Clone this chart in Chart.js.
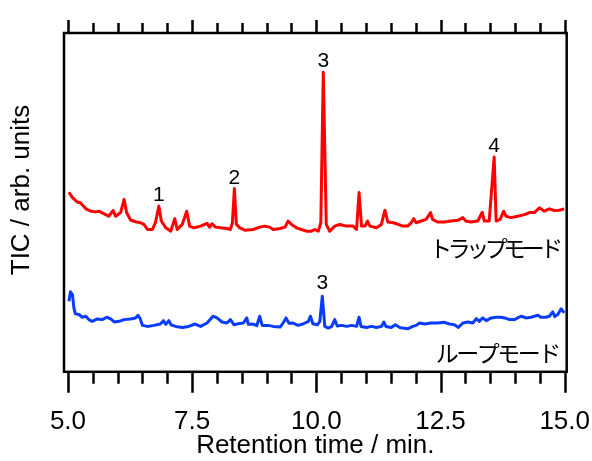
<!DOCTYPE html>
<html>
<head>
<meta charset="utf-8">
<script src="https://cdn.jsdelivr.net/npm/chart.js@4.4.1/dist/chart.umd.min.js"></script>
<style>
  html, body { margin: 0; padding: 0; background: #fff; }
  #wrap { width: 592px; height: 461px; }
</style>
</head>
<body>
<div id="wrap"><canvas id="tic"></canvas></div>
<script>
// retention time (min) and TIC signal
const trapTime = [5.02,5.09,5.19,5.25,5.36,5.46,5.56,5.62,5.72,5.82,5.91,5.96,6.06,6.13,6.18,6.26,6.36,6.46,6.53,6.60,
  6.70,6.76,6.83,6.88,6.97,7.07,7.15,7.20,7.30,7.39,7.45,7.54,7.67,7.80,7.85,7.90,7.97,8.07,8.20,8.27,
  8.31,8.35,8.39,8.46,8.56,8.73,8.86,8.96,9.06,9.13,9.27,9.37,9.43,9.50,9.60,9.70,9.80,9.90,9.97,10.04,
  10.09,10.14,10.20,10.27,10.37,10.47,10.61,10.74,10.81,10.86,10.91,10.98,11.03,11.08,11.21,11.31,11.38,11.44,11.55,11.65,
  11.74,11.84,11.91,11.96,12.01,12.11,12.21,12.30,12.34,12.44,12.58,12.71,12.85,12.95,13.01,13.11,13.25,13.34,13.38,13.48,
  13.58,13.62,13.70,13.77,13.82,13.92,14.05,14.19,14.29,14.39,14.49,14.59,14.69,14.79,14.89,14.99];
const trapSignal = [53.0,51.4,50.1,49.9,48.1,47.4,47.2,47.4,46.7,45.9,47.6,45.9,47.0,50.9,47.0,44.8,44.3,44.0,43.5,42.0,
  42.0,44.0,48.9,44.5,42.5,41.5,45.2,42.0,43.5,47.4,43.0,42.5,43.0,43.8,42.7,43.7,42.7,42.5,42.3,42.0,
  44.0,54.1,43.5,42.5,41.8,42.0,42.7,43.0,42.7,42.0,42.3,42.7,44.5,43.5,42.5,42.0,41.5,41.5,42.0,41.5,
  44.0,88.4,43.5,41.5,43.0,43.5,43.0,43.0,42.0,52.9,43.0,43.0,44.5,43.0,42.5,43.5,47.7,44.2,44.0,43.5,
  43.0,43.0,44.0,45.2,44.0,44.5,45.0,47.0,45.0,44.2,44.2,44.5,44.7,45.5,44.5,44.2,44.5,47.1,44.5,44.5,
  63.4,44.5,45.0,47.4,45.9,45.5,45.9,46.4,47.0,47.0,48.4,47.4,48.1,47.6,47.7,48.1];

const loopTime = [5.02,5.05,5.09,5.12,5.15,5.22,5.29,5.36,5.42,5.49,5.59,5.69,5.78,5.86,5.93,6.03,6.13,6.26,6.36,6.41,
  6.45,6.50,6.60,6.73,6.86,6.92,6.97,7.03,7.08,7.17,7.30,7.43,7.56,7.67,7.80,7.92,8.00,8.10,8.20,8.27,
  8.34,8.43,8.53,8.60,8.63,8.73,8.80,8.86,8.91,9.03,9.13,9.27,9.33,9.39,9.45,9.53,9.63,9.73,9.84,9.88,
  9.93,10.02,10.07,10.12,10.17,10.24,10.31,10.37,10.42,10.51,10.61,10.71,10.81,10.86,10.90,11.01,11.11,11.21,11.31,11.36,
  11.40,11.51,11.59,11.68,11.74,11.84,11.94,12.01,12.08,12.18,12.31,12.44,12.58,12.68,12.78,12.86,12.95,13.05,13.15,13.22,
  13.28,13.35,13.42,13.52,13.62,13.72,13.79,13.89,13.99,14.05,14.13,14.22,14.32,14.46,14.52,14.62,14.69,14.76,14.80,14.86,
  14.93,14.99];
const loopSignal = [20.8,23.6,22.8,18.8,17.1,16.9,16.1,16.4,15.4,14.9,15.6,15.4,16.1,15.6,14.7,14.9,15.4,15.6,15.9,16.7,
  15.8,13.7,13.4,13.7,14.1,15.1,14.0,15.1,13.8,13.4,13.1,13.4,14.1,13.4,14.4,16.4,15.9,14.7,14.4,15.4,
  13.9,14.2,14.4,15.9,14.0,14.1,13.6,16.4,13.7,13.7,13.4,13.2,14.4,15.9,14.3,14.4,13.7,14.1,14.9,16.4,
  14.2,13.9,14.8,22.3,13.4,12.9,13.4,15.4,13.5,13.7,13.4,13.7,13.4,16.1,13.4,13.1,13.4,13.1,13.4,14.7,
  13.4,13.1,13.9,13.1,12.9,12.7,13.4,13.7,14.4,14.1,14.4,14.4,14.6,14.1,13.9,13.1,14.4,14.7,14.4,15.7,
  14.9,15.9,15.1,15.9,16.1,16.1,15.9,15.4,15.4,15.9,16.4,15.9,16.1,16.7,16.1,16.1,16.4,17.7,16.3,16.9,
  18.6,17.4];

const trapPeakLabels = ["1", "2", "3", "4"];
const trapPeakTimes = [6.83, 8.35, 10.14, 13.58];
const loopPeakLabels = ["3"];
const loopPeakTimes = [10.12];

const xTickValues = [5, 7.5, 10, 12.5, 15];
const modeNames = ["トラップモード", "ループモード"];
const modeLabelLevel = [34, 3];
const yTitle = "TIC / arb. units";

function toPoints(times, values){
  let pts = [];
  times.forEach(function(t, i){
    pts.push({x: t, y: values[i]});
  });
  return pts;
}

const frameAndMarks = {
  id: "frameAndMarks",
  afterDatasetsDraw(chart){
    let ctx = chart.ctx;
    let a = chart.chartArea;
    let xs = chart.scales.x;
    let ys = chart.scales.y;
    ctx.save();
    ctx.strokeStyle = "#000";
    ctx.lineWidth = 2.5;
    ctx.strokeRect(a.left, a.top, a.right - a.left, a.bottom - a.top);

    // ticks every 0.5 min, longer at the labelled ones
    for (let i = 0; i <= 20; i++){
      let v = 5 + i * 0.5;
      let px = Math.round(xs.getPixelForValue(v)) + 0.5;
      let major = xTickValues.includes(v);
      ctx.beginPath();
      ctx.moveTo(px, a.bottom);
      ctx.lineTo(px, a.bottom + (major ? 21 : 12));
      ctx.moveTo(px, a.top);
      ctx.lineTo(px, a.top - (major ? 13 : 10));
      ctx.stroke();
    }

    // peak numbers
    ctx.fillStyle = "#000";
    ctx.textAlign = "center";
    ctx.textBaseline = "alphabetic";
    ctx.font = "21px 'Liberation Sans', Arial, sans-serif";
    trapPeakLabels.forEach(function(lbl, i){
      let k = trapTime.indexOf(trapPeakTimes[i]);
      ctx.fillText(lbl, xs.getPixelForValue(trapTime[k]), ys.getPixelForValue(trapSignal[k]) - 5);
    });
    loopPeakLabels.forEach(function(lbl, i){
      let k = loopTime.indexOf(loopPeakTimes[i]);
      ctx.fillText(lbl, xs.getPixelForValue(loopTime[k]), ys.getPixelForValue(loopSignal[k]) - 7);
    });

    // mode names (kana set a bit tighter, like a proportional font)
    ctx.textAlign = "right";
    ctx.font = "23px 'Noto Sans CJK JP', sans-serif";
    let spacing = [-4.5, -2.5];
    modeNames.forEach(function(name, i){
      ctx.letterSpacing = spacing[i] + "px";
      ctx.fillText(name, a.right - 8, ys.getPixelForValue(modeLabelLevel[i]));
    });
    ctx.letterSpacing = "0px";

    // y title, sits a little above the middle of the frame
    ctx.translate(22, 190);
    ctx.rotate(-Math.PI / 2);
    ctx.textAlign = "center";
    ctx.textBaseline = "middle";
    ctx.font = "26px 'Liberation Sans', Arial, sans-serif";
    ctx.fillText(yTitle, 0, 0);
    ctx.restore();
  }
};

function createGraph(name){
  let ctx = document.getElementById(name);
  new Chart(ctx, {
    type: "line",
    data: {
      datasets: [
        {
          label: "trap",
          data: toPoints(trapTime, trapSignal),
          borderColor: "#ff0000",
          borderWidth: 3,
          pointRadius: 0,
          tension: 0,
          borderJoinStyle: "round",
          fill: false
        },
        {
          label: "loop",
          data: toPoints(loopTime, loopSignal),
          borderColor: "#0a3cff",
          borderWidth: 3,
          pointRadius: 0,
          tension: 0,
          borderJoinStyle: "round",
          fill: false
        }
      ]
    },
    options: {
      responsive: true,
      maintainAspectRatio: false,
      animation: false,
      layout: { padding: { top: 33, right: 0, bottom: 0, left: 64 } },
      plugins: {
        legend: { display: false },
        tooltip: { enabled: false }
      },
      scales: {
        x: {
          type: "linear",
          position: "bottom",
          min: 4.92,
          max: 15.04,
          grid: { display: false, drawTicks: true, tickLength: 35 },
          border: { display: false },
          afterBuildTicks: function(scale){
            scale.ticks = xTickValues.map(function(v){ return {value: v}; });
          },
          ticks: {
            color: "#000",
            padding: 2,
            maxRotation: 0,
            font: { family: "'Liberation Sans', Arial, sans-serif", size: 26, lineHeight: 1 },
            callback: function(v){ return Number(v).toFixed(1); }
          },
          title: {
            display: true,
            text: "Retention time / min.",
            color: "#000",
            padding: { top: -7, bottom: 0 },
            font: { family: "'Liberation Sans', Arial, sans-serif", size: 26, lineHeight: 1.2 }
          }
        },
        y: {
          display: false,
          min: 0,
          max: 100
        }
      }
    },
    plugins: [frameAndMarks]
  });
}

createGraph("tic");
</script>
</body>
</html>
